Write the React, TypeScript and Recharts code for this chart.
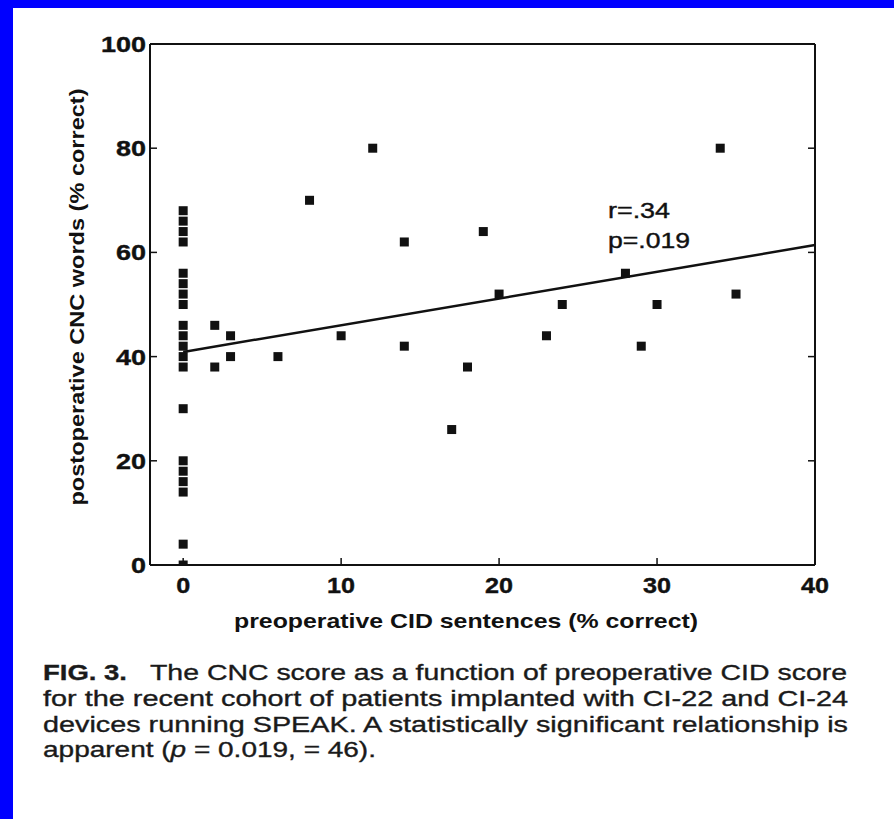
import { ScatterChart, Scatter, XAxis, YAxis, ReferenceLine } from 'recharts';

// patients with 0% preoperative CID score (x = 0 column)
const cncAtZero = [68, 66, 64, 62, 56, 54, 52, 50, 46, 44, 42, 40, 38, 30, 20, 18, 16, 14, 4, 0];
// remaining patients: preoperative CID % and postoperative CNC %
const cidScores = [2, 2, 3, 3, 6, 8, 10, 12, 14, 14, 17, 18, 19, 20, 23, 24, 28, 29, 30, 34, 35];
const cncScores = [46, 38, 44, 40, 40, 70, 44, 80, 62, 42, 26, 38, 64, 52, 44, 50, 56, 42, 50, 80, 52];
// regression line end points
const fitX = [0, 40];
const fitY = [40.9, 61.4];

const xTicks = [0, 10, 20, 30, 40];
const yTicks = [0, 20, 40, 60, 80, 100];

const points = [
  ...cncAtZero.map((y) => ({ x: 0, y })),
  ...cidScores.map((x, i) => ({ x, y: cncScores[i] })),
];
const fitSegment = fitX.map((x, i) => ({ x, y: fitY[i] }));

const FONT = '"Liberation Sans", Arial, Helvetica, sans-serif';
const INK = '#111';

const Square = (props: any) => {
  const { cx, cy } = props;
  return <rect x={cx - 4.5} y={cy - 4.5} width={9} height={9} fill={INK} />;
};

const XTick = (props: any) => {
  const { x, y, payload } = props;
  const s = String(payload.value);
  return (
    <text x={x} y={y + 28} textAnchor="middle" fontFamily={FONT} fontWeight="bold" fontSize={22}
      fill={INK} stroke={INK} strokeWidth={0.4}
      textLength={s.length * 14} lengthAdjust="spacingAndGlyphs">{s}</text>
  );
};

const YTick = (props: any) => {
  const { x, y, payload } = props;
  const s = String(payload.value);
  return (
    <text x={x} y={y + 8} textAnchor="end" fontFamily={FONT} fontWeight="bold" fontSize={22}
      fill={INK} stroke={INK} strokeWidth={0.4}
      textLength={s.length * 15} lengthAdjust="spacingAndGlyphs">{s}</text>
  );
};

const noTick = () => <g />;

const XTitle = (props: any) => {
  const { viewBox } = props;
  return (
    <text x={viewBox.x + 84} y={viewBox.y + 63} fontFamily={FONT} fontWeight="bold" fontSize={21}
      fill={INK} textLength={464} lengthAdjust="spacingAndGlyphs">preoperative CID sentences (% correct)</text>
  );
};

const YTitle = (props: any) => {
  const { viewBox } = props;
  const cx = viewBox.x - 33;
  const cy = 297;
  return (
    <text x={cx} y={cy} transform={`rotate(-90, ${cx}, ${cy})`} textAnchor="middle" dominantBaseline="central"
      fontFamily={FONT} fontWeight="bold" fontSize={20} fill={INK}
      textLength={417} lengthAdjust="spacingAndGlyphs">postoperative CNC words (% correct)</text>
  );
};

const spine = { stroke: INK, strokeWidth: 2 };
const tickStroke = { stroke: INK, strokeWidth: 1.5 };

export default function App() {
  return (
    <div style={{ position: 'absolute', left: 0, top: 0, width: 894, height: 819, background: '#0000ff' }}>
      <div style={{ position: 'absolute', left: 13, top: 8, right: 0, bottom: 0, background: '#fff' }} />
      <div style={{ position: 'absolute', left: 0, top: 0 }}>
        <ScatterChart width={894} height={819} margin={{ top: 34, right: 69, bottom: 194, left: 110 }}>
          <XAxis dataKey="x" type="number" domain={[-2.1, 40]} ticks={xTicks} interval={0} allowDataOverflow
            height={60} tickSize={-7} tickMargin={7} axisLine={spine} tickLine={tickStroke}
            tick={<XTick />} label={<XTitle />} />
          <XAxis xAxisId="top" orientation="top" type="number" domain={[-2.1, 40]} ticks={xTicks} interval={0}
            allowDataOverflow height={10} tickSize={-7} axisLine={spine} tickLine={tickStroke} tick={noTick} />
          <YAxis dataKey="y" type="number" domain={[0, 100]} ticks={yTicks} interval={0} allowDataOverflow
            width={40} tickSize={-7} tickMargin={11} axisLine={spine} tickLine={tickStroke}
            tick={<YTick />} label={<YTitle />} />
          <YAxis yAxisId="right" orientation="right" type="number" domain={[0, 100]} ticks={yTicks} interval={0}
            allowDataOverflow width={10} tickSize={-7} axisLine={spine} tickLine={tickStroke} tick={noTick} />
          <ReferenceLine segment={fitSegment} stroke={INK} strokeWidth={2.5} ifOverflow="visible" />
          <Scatter data={points} shape={<Square />} isAnimationActive={false} />
        </ScatterChart>
      </div>
      <svg width={894} height={819} style={{ position: 'absolute', left: 0, top: 0, pointerEvents: 'none' }}
        fontFamily={FONT} fill={INK}>
        <g fontSize={22} stroke={INK} strokeWidth={0.4}>
          <text x={608} y={218} textLength={62} lengthAdjust="spacingAndGlyphs">r=.34</text>
          <text x={608} y={248} textLength={82} lengthAdjust="spacingAndGlyphs">p=.019</text>
        </g>
        <g fontSize={22} fill="#1a1a1a" stroke="#1a1a1a" strokeWidth={0.35}>
          <text x={43} y={680} fontWeight="bold" textLength={84} lengthAdjust="spacingAndGlyphs">FIG. 3.</text>
          <text x={150} y={680} textLength={697} lengthAdjust="spacingAndGlyphs">The CNC score as a function of preoperative CID score</text>
          <text x={43} y={706} textLength={805} lengthAdjust="spacingAndGlyphs">for the recent cohort of patients implanted with CI-22 and CI-24</text>
          <text x={43} y={731.5} textLength={805} lengthAdjust="spacingAndGlyphs">devices running SPEAK. A statistically significant relationship is</text>
          <text x={43} y={757} textLength={333} lengthAdjust="spacingAndGlyphs">apparent (<tspan fontStyle="italic">p</tspan> = 0.019, = 46).</text>
        </g>
      </svg>
    </div>
  );
}
